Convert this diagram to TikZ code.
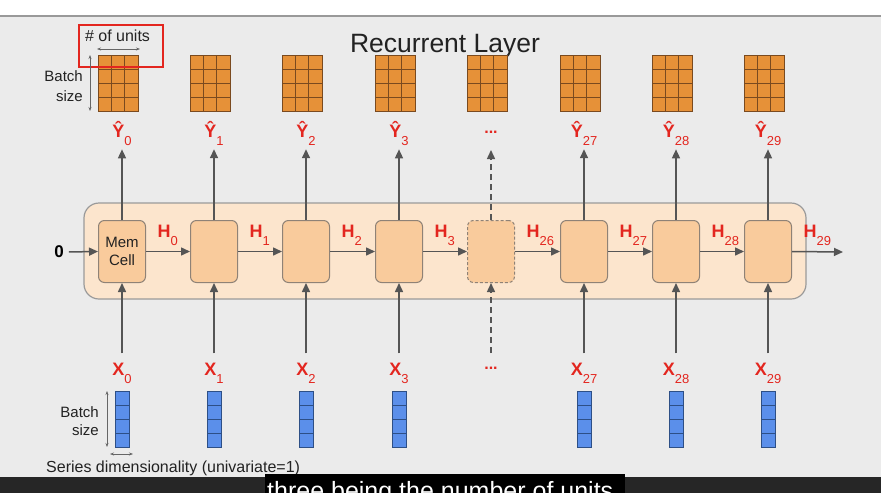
\documentclass[tikz,border=0pt]{standalone}
\usepackage{fontspec}
\setmainfont{Liberation Sans}
\usetikzlibrary{arrows.meta}
\definecolor{bgc}{HTML}{EBEBEB}
\definecolor{layerfill}{HTML}{FCE5CD}
\definecolor{layerdraw}{HTML}{9A9A9A}
\definecolor{cellfill}{HTML}{F9CB9C}
\definecolor{celldraw}{HTML}{8F8276}
\definecolor{arrowgray}{HTML}{555555}
\definecolor{labred}{HTML}{E3261F}
\definecolor{gridfillc}{HTML}{E69138}
\definecolor{gridlinec}{HTML}{7A4A1F}
\definecolor{bluefill}{HTML}{5B8FEA}
\definecolor{blueline}{HTML}{2D4F86}
\definecolor{textdark}{HTML}{222222}
\definecolor{bandc}{HTML}{262626}
\newcommand\lsub[2]{\textbf{#1}\raisebox{-8pt}{\fontsize{13}{13}\selectfont #2}}
\tikzset{
  cellbox/.style={draw=celldraw, fill=cellfill, line width=1pt, rounded corners=6pt,
    minimum width=47pt, minimum height=62pt, inner sep=0pt},
  arr/.style={draw=arrowgray, line width=1.5pt, -{Triangle[length=9pt,width=8pt]}},
  dasharr/.style={arr, dash pattern=on 6pt off 4pt},
  lab/.style={text=labred, inner sep=0pt, font=\fontsize{18}{18}\selectfont},
  measure/.style={draw=gray!80!black, line width=0.7pt, {Stealth[length=4pt,width=3pt]}-{Stealth[length=4pt,width=3pt]}},
  gridcell/.style={draw=gridlinec, fill=gridfillc, line width=0.8pt},
  gridinner/.style={draw=gridlinec, line width=0.8pt},
  bluecell/.style={draw=blueline, fill=bluefill, line width=0.8pt},
  plain/.style={text=textdark, inner sep=0pt},
}
\begin{document}
\begin{tikzpicture}[x=1pt,y=-1pt]
\useasboundingbox (0,0) rectangle (881,493);
\clip (0,0) rectangle (881,493);
% background
\fill[white] (0,0) rectangle (881,16);
\fill[bgc] (0,16) rectangle (881,493);
\draw[gray!80, line width=1.5pt] (0,16) -- (881,16);

% title
\node[plain, anchor=base, font=\fontsize{26.5}{30}\selectfont] (title) at (445,52) {Recurrent Layer};

% layer container
\draw[draw=layerdraw, fill=layerfill, line width=1.2pt, rounded corners=15pt] (84,203) rectangle (806,299);

% output grids (3 x 4)
\foreach \x in {122,214,306,399,491,584,676,768}{
  \filldraw[gridcell] (\x-24,55) rectangle (\x+16,111);
  \foreach \k in {1,2} \draw[gridinner] (\x-24+13.333*\k,55) -- (\x-24+13.333*\k,111);
  \foreach \k in {1,2,3} \draw[gridinner] (\x-24,55+14*\k) -- (\x+16,55+14*\k);
}
% input columns (1 x 4)
\foreach \x in {122,214,306,399,584,676,768}{
  \filldraw[bluecell] (\x-7,391) rectangle (\x+7,447);
  \foreach \k in {1,2,3} \draw[draw=blueline, line width=0.8pt] (\x-7,391+14*\k) -- (\x+7,391+14*\k);
}

% cells
\foreach \i/\x in {0/122,1/214,2/306,3/399,5/584,6/676,7/768}{
  \node[cellbox] (c\i) at (\x,251.5) {};
}
\node[cellbox, dash pattern=on 3pt off 2pt] (c4) at (491,251.5) {};
\node[plain, align=center, font=\fontsize{15}{18}\selectfont, text=textdark] at (c0) {Mem\\Cell};

% Y hat labels and X labels
\foreach \i/\x/\s in {0/122/0,1/214/1,2/306/2,3/399/3,5/584/27,6/676/28,7/768/29}{
  \node[lab, anchor=base] (y\i) at (\x,137) {\lsub{Ŷ}{\s}};
  \node[lab, anchor=base] (x\i) at (\x,375) {\lsub{X}{\s}};
  \draw[arr, shorten >=4pt] (c\i.north) -- (y\i.south);
  \draw[arr, shorten <=9pt] (x\i.north) -- (c\i.south);
}
% the "..." column
\node[lab, font=\bfseries\fontsize{16}{16}\selectfont] (dtop) at (491,132) {...};
\node[lab, font=\bfseries\fontsize{16}{16}\selectfont] (dbot) at (491,368) {...};
\coordinate (dtopend) at (491,150);
\coordinate (dbotstart) at (491,353);
\draw[dasharr] (c4.north) -- (dtopend);
\draw[dasharr] (dbotstart) -- (c4.south);

% hidden state chain
\node[inner sep=2pt, font=\bfseries\fontsize{17}{17}\selectfont, text=black] (zero) at (59,252) {0};
\coordinate (hout) at (843,252);
\draw[arr, shorten <=3pt] (zero.east) -- (c0.west);
\draw[arr] (c0.east) -- (c1.west);
\draw[arr] (c1.east) -- (c2.west);
\draw[arr] (c2.east) -- (c3.west);
\draw[arr] (c3.east) -- (c4.west);
\draw[arr] (c4.east) -- (c5.west);
\draw[arr] (c5.east) -- (c6.west);
\draw[arr] (c6.east) -- (c7.west);
\draw[arr] (c7.east) -- (hout);
\foreach \i/\x/\s in {0/122/0,1/214/1,2/306/2,3/399/3,4/491/26,5/584/27,6/676/28,7/768/29}{
  \node[lab, anchor=base west] (h\i) at (\x+35.5,237) {\lsub{H}{\s}};
}

% annotations: output
\draw[draw=labred, line width=1.8pt] (79,25) rectangle (163,67);
\node[plain, anchor=base, font=\fontsize{16}{16}\selectfont] (units) at (117.5,41) {\# of units};
\coordinate (uL) at (97,49);
\coordinate (uR) at (140,49);
\draw[measure] (uL) -- (uR);
\coordinate (bT) at (90,55);
\coordinate (bB) at (90,111);
\draw[measure] (bT) -- (bB);
\node[plain, anchor=east, align=right, font=\fontsize{15}{20}\selectfont] (batch1) at (83,86) {Batch\\size};

% annotations: input
\coordinate (b2T) at (107,391);
\coordinate (b2B) at (107,447);
\draw[measure] (b2T) -- (b2B);
\node[plain, anchor=east, align=right, font=\fontsize{15}{18}\selectfont] (batch2) at (99,421) {Batch\\size};
\coordinate (sL) at (110,454);
\coordinate (sR) at (133,454);
\draw[measure] (sL) -- (sR);
\node[plain, anchor=base west, font=\fontsize{16}{16}\selectfont] (series) at (46,472) {Series dimensionality (univariate=1)};

% subtitle band
\fill[bandc] (0,477) rectangle (881,493);
\fill[black] (265,474) rectangle (625,493);
\node[anchor=base west, inner sep=0pt, text=white, font=\fontsize{25}{25}\selectfont] (sub) at (267,499) {three being the number of units};
\end{tikzpicture}
\end{document}
